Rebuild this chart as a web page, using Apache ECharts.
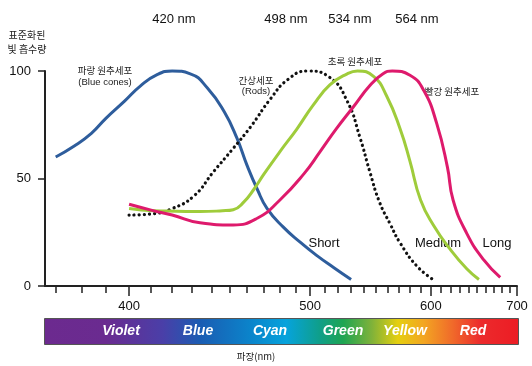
<!DOCTYPE html>
<html><head><meta charset="utf-8">
<script src="https://cdn.jsdelivr.net/npm/echarts@6/dist/echarts.min.js"></script>
<style>html,body{margin:0;padding:0;background:#fff}#c{width:532px;height:366px}</style>
</head><body><div id="c"></div>
<script>
// wavelengths (nm) and normalized absorbance readings for each curve
const shortNm   = [370, 377, 384, 390, 398, 405, 413, 420, 429, 438, 447, 454, 460, 466, 472, 482, 493, 505, 517, 530];
const shortVal  = [60, 65, 71, 78, 86, 93, 98.4, 100, 98.7, 92, 81, 69, 56, 45, 36, 27.5, 20.5, 14, 8.5, 3];
const rodsNm    = [400, 410, 420, 431, 441, 452, 462, 474, 485, 498, 514, 527, 537, 545, 553, 562, 571, 587, 604];
const rodsVal   = [33, 33.5, 36, 42, 53, 64, 74, 87, 96, 100, 97, 86, 69, 53, 39, 29, 20, 9, 2.5];
const mediumNm  = [400, 411, 422, 434, 446, 452, 458, 464, 470, 480, 491, 502, 514, 527, 535, 548, 559, 571, 580, 590, 603, 620, 638, 652];
const mediumVal = [36, 35, 34.8, 34.6, 35, 35.5, 39, 45, 52, 62.5, 73, 84, 93.5, 98.7, 100, 97.5, 88.5, 73, 58, 40, 28, 17, 8, 3];
const longNm    = [400, 410, 420, 434, 452, 466, 480, 496, 507, 519, 532, 545, 556, 564, 580, 593, 606, 617, 623, 638, 658, 678];
const longVal   = [38, 35.3, 33, 29.4, 28.4, 31.5, 40, 52.4, 62.5, 73.3, 83.5, 93.3, 98.7, 100, 98, 91, 75.5, 55.3, 40, 24.5, 12, 4];

const xTickNm   = [370,380,390,400,410,420,430,440,450,460,470,480,490,500,510,520,530,540,550,560,570,580,590,600,610,620,630,640,650,660,670,680,690,700];
const xLabelNm  = [400, 500, 600, 700];
const yTicks    = [0, 50, 100];
const peakLabels = ['420 nm', '498 nm', '534 nm', '564 nm'];
const bandNames  = ['Violet', 'Blue', 'Cyan', 'Green', 'Yellow', 'Red'];

// axis is linear in wavenumber (1/wavelength)
const toU = nm => 100000 / nm;
const pts = (xs, ys) => xs.map((x, i) => [toU(x), ys[i]]);

const LAT = '"Liberation Sans", Arial, "Noto Sans CJK KR", sans-serif';
const KR = '"Noto Sans CJK KR", "Liberation Sans", sans-serif';
const uMin = toU(700), uMax = toU(366);

const chart = echarts.init(document.getElementById('c'), null, {renderer: 'canvas'});

const peakX = [174, 286, 350, 417];
const bandX = [121, 198, 270, 343, 405, 473];

const graphics = [];
peakLabels.forEach((t, i) => graphics.push({type:'text', x: peakX[i], y: 19, style:{text:t, fill:'#111', font:'13px ' + LAT, textAlign:'center', textVerticalAlign:'middle'}}));
const note = (t, x, y, f, s) => graphics.push({type:'text', x, y, style:{text:t, fill:'#222', font:(s || 9.5) + 'px ' + f, textAlign:'center', textVerticalAlign:'middle'}});
note('표준화된', 27, 35, KR, 10);
note('빛 흡수량', 27, 49, KR, 10);
note('파랑 원추세포', 105, 70, KR);
note('(Blue cones)', 105, 82, LAT);
note('간상세포', 256, 80, KR);
note('(Rods)', 256, 91, LAT);
note('초록 원추세포', 355, 61, KR);
note('빨강 원추세포', 452, 91, KR);
graphics.push({type:'text', x: 324, y: 243, style:{text:'Short', fill:'#111', font:'13px ' + LAT, textAlign:'center', textVerticalAlign:'middle'}});
graphics.push({type:'text', x: 438, y: 243, style:{text:'Medium', fill:'#111', font:'13px ' + LAT, textAlign:'center', textVerticalAlign:'middle'}});
graphics.push({type:'text', x: 497, y: 243, style:{text:'Long', fill:'#111', font:'13px ' + LAT, textAlign:'center', textVerticalAlign:'middle'}});
// spectrum bar
graphics.push({type:'rect', shape:{x:44.5, y:318.5, width:474, height:26}, style:{
  stroke:'#555', lineWidth:1,
  fill: new echarts.graphic.LinearGradient(0,0,1,0,[
    {offset:0, color:'#6c2a8f'}, {offset:0.13, color:'#6a2b90'}, {offset:0.25, color:'#4a3fa8'},
    {offset:0.33, color:'#1a5db3'}, {offset:0.44, color:'#0a86cc'}, {offset:0.51, color:'#06a3dc'},
    {offset:0.58, color:'#0f9f8a'}, {offset:0.63, color:'#1ea552'}, {offset:0.69, color:'#7fb23a'},
    {offset:0.745, color:'#e5cf0f'}, {offset:0.80, color:'#f3a522'}, {offset:0.86, color:'#f06a2a'},
    {offset:0.92, color:'#ec2a2c'}, {offset:1, color:'#ec1c24'}])
}});
bandNames.forEach((t, i) => graphics.push({type:'text', x: bandX[i], y: 331, style:{text:t, fill:'#fff', font:'italic bold 14px ' + LAT, textAlign:'center', textVerticalAlign:'middle'}}));
note('파장(nm)', 256, 356, KR);

const lineSeries = (data, color, extra) => Object.assign({
  type:'line', data, smooth:0.5, showSymbol:false, clip:false, silent:true,
  lineStyle:{color, width:3}
}, extra || {});

chart.setOption({
  animation:false,
  backgroundColor:'#fff',
  grid:{left:45, right:15, top:71, bottom:80},
  xAxis:[{
    type:'value', inverse:true, min:uMin, max:uMax,
    splitLine:{show:false},
    axisLine:{show:true, onZero:false, lineStyle:{color:'#222', width:2}},
    axisTick:{show:true, customValues: xTickNm.map(toU), length:7, lineStyle:{color:'#222', width:1.5}},
    axisLabel:{show:true, customValues: xLabelNm.map(toU), formatter: v => String(Math.round(100000 / v)),
      color:'#111', fontSize:13, fontFamily:LAT, margin:14, showMinLabel:true, showMaxLabel:true}
  },{
    type:'value', inverse:true, min:uMin, max:uMax, position:'bottom',
    splitLine:{show:false},
    axisLine:{show:false},
    axisTick:{show:true, customValues: xLabelNm.map(toU), length:10, lineStyle:{color:'#222', width:1.5}},
    axisLabel:{show:false}
  }],
  yAxis:{
    type:'value', min:0, max:100, interval:50,
    splitLine:{show:false},
    axisLine:{show:true, lineStyle:{color:'#222', width:2}},
    axisTick:{show:true, customValues: yTicks, length:7, lineStyle:{color:'#222', width:1.5}},
    axisLabel:{customValues: yTicks, color:'#111', fontSize:13, fontFamily:LAT, margin:14}
  },
  series:[
    lineSeries(pts(shortNm, shortVal), '#2e5d9c'),
    lineSeries(pts(rodsNm, rodsVal), '#111', {lineStyle:{color:'#111', width:3.2, type:[0.1, 5], cap:'round'}}),
    lineSeries(pts(mediumNm, mediumVal), '#9fcc3b'),
    lineSeries(pts(longNm, longVal), '#de1a6c')
  ],
  graphic: graphics
});
</script></body></html>
